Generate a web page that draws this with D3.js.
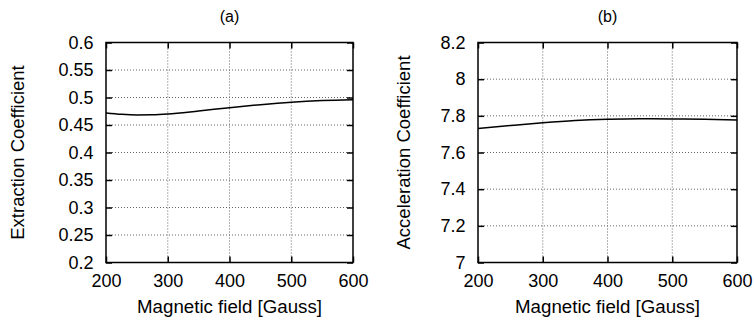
<!DOCTYPE html>
<html>
<head>
<meta charset="utf-8">
<script src="https://cdn.jsdelivr.net/npm/d3@7"></script>
<style>
  body { margin: 0; background: #fff; }
  svg { display: block; }
  text { font-family: "Liberation Sans", Arial, sans-serif; fill: #000; }
</style>
</head>
<body>
<svg width="754" height="327"></svg>
<script>
const fieldA = [200, 225, 250, 275, 300, 350, 400, 450, 500, 550, 600];
const extraction = [0.472, 0.4695, 0.4683, 0.4686, 0.470, 0.4755, 0.4815, 0.487, 0.4915, 0.4945, 0.496];

const fieldB = [200, 250, 300, 350, 400, 450, 500, 550, 600];
const acceleration = [7.731, 7.747, 7.762, 7.774, 7.781, 7.784, 7.783, 7.781, 7.777];

const xTicks = [200, 300, 400, 500, 600];
const yTicksA = [0.2, 0.25, 0.3, 0.35, 0.4, 0.45, 0.5, 0.55, 0.6];
const yTicksB = [7, 7.2, 7.4, 7.6, 7.8, 8, 8.2];

const svg = d3.select("svg");

// draws one gnuplot-style panel
function makePanel(cfg) {
  const x = d3.scaleLinear().domain([200, 600]).range([cfg.left, cfg.right]);
  const y = d3.scaleLinear().domain(cfg.yDomain).range([262.5, 42.5]);
  const g = svg.append("g");

  // grid
  g.selectAll(".vgrid")
    .data(xTicks.slice(1, -1))
    .enter()
    .append("line")
    .attr("x1", d => x(d)).attr("x2", d => x(d))
    .attr("y1", y.range()[0]).attr("y2", y.range()[1])
    .attr("stroke", "#666").attr("stroke-width", 1)
    .attr("stroke-dasharray", "1,2");
  g.selectAll(".hgrid")
    .data(cfg.yTicks.slice(1, -1))
    .enter()
    .append("line")
    .attr("y1", d => y(d)).attr("y2", d => y(d))
    .attr("x1", cfg.left).attr("x2", cfg.right)
    .attr("stroke", "#666").attr("stroke-width", 1)
    .attr("stroke-dasharray", "1,2");

  // axes with inward ticks on all sides
  const fmt = d => String(d);
  g.append("g")
    .attr("transform", `translate(0,${y.range()[0]})`)
    .call(d3.axisBottom(x).tickValues(xTicks).tickFormat(fmt).tickSizeInner(-6).tickSizeOuter(0).tickPadding(12));
  g.append("g")
    .attr("transform", `translate(0,${y.range()[1]})`)
    .call(d3.axisTop(x).tickValues(xTicks).tickFormat("").tickSizeInner(-6).tickSizeOuter(0));
  g.append("g")
    .attr("transform", `translate(${cfg.left},0)`)
    .call(d3.axisLeft(y).tickValues(cfg.yTicks).tickFormat(fmt).tickSizeInner(-6).tickSizeOuter(0).tickPadding(12.5));
  g.append("g")
    .attr("transform", `translate(${cfg.right},0)`)
    .call(d3.axisRight(y).tickValues(cfg.yTicks).tickFormat("").tickSizeInner(-6).tickSizeOuter(0));

  g.selectAll(".domain").remove();
  g.selectAll(".tick line").attr("stroke", "#000").attr("stroke-width", 1.5);
  g.selectAll(".tick text")
    .style("font-family", "Liberation Sans, Arial, sans-serif")
    .style("font-size", "18px")
    .attr("fill", "#000");

  g.append("rect")
    .attr("x", cfg.left).attr("y", y.range()[1])
    .attr("width", cfg.right - cfg.left)
    .attr("height", y.range()[0] - y.range()[1])
    .attr("fill", "none").attr("stroke", "#000").attr("stroke-width", 1.5);

  // data curve
  const line = d3.line()
    .x(d => x(d[0]))
    .y(d => y(d[1]))
    .curve(d3.curveMonotoneX);
  g.append("path")
    .datum(cfg.xs.map((v, i) => [v, cfg.ys[i]]))
    .attr("d", line)
    .attr("fill", "none").attr("stroke", "#000").attr("stroke-width", 1.5);

  // labels
  const cx = (cfg.left + cfg.right) / 2;
  g.append("text")
    .attr("x", cx).attr("y", 22)
    .attr("text-anchor", "middle")
    .style("font-size", "16px")
    .text(cfg.title);
  g.append("text")
    .attr("x", cx).attr("y", 313)
    .attr("text-anchor", "middle")
    .style("font-size", "18.7px")
    .text("Magnetic field [Gauss]");
  g.append("text")
    .attr("transform", `translate(${cfg.ylabelX},152.5) rotate(-90)`)
    .attr("text-anchor", "middle")
    .style("font-size", "18.5px")
    .text(cfg.ylabel);
}

makePanel({
  left: 106, right: 353, yDomain: [0.2, 0.6], yTicks: yTicksA,
  xs: fieldA, ys: extraction, title: "(a)",
  ylabel: "Extraction Coefficient", ylabelX: 24
});
makePanel({
  left: 478, right: 737, yDomain: [7, 8.2], yTicks: yTicksB,
  xs: fieldB, ys: acceleration, title: "(b)",
  ylabel: "Acceleration Coefficient", ylabelX: 410
});
</script>
</body>
</html>
